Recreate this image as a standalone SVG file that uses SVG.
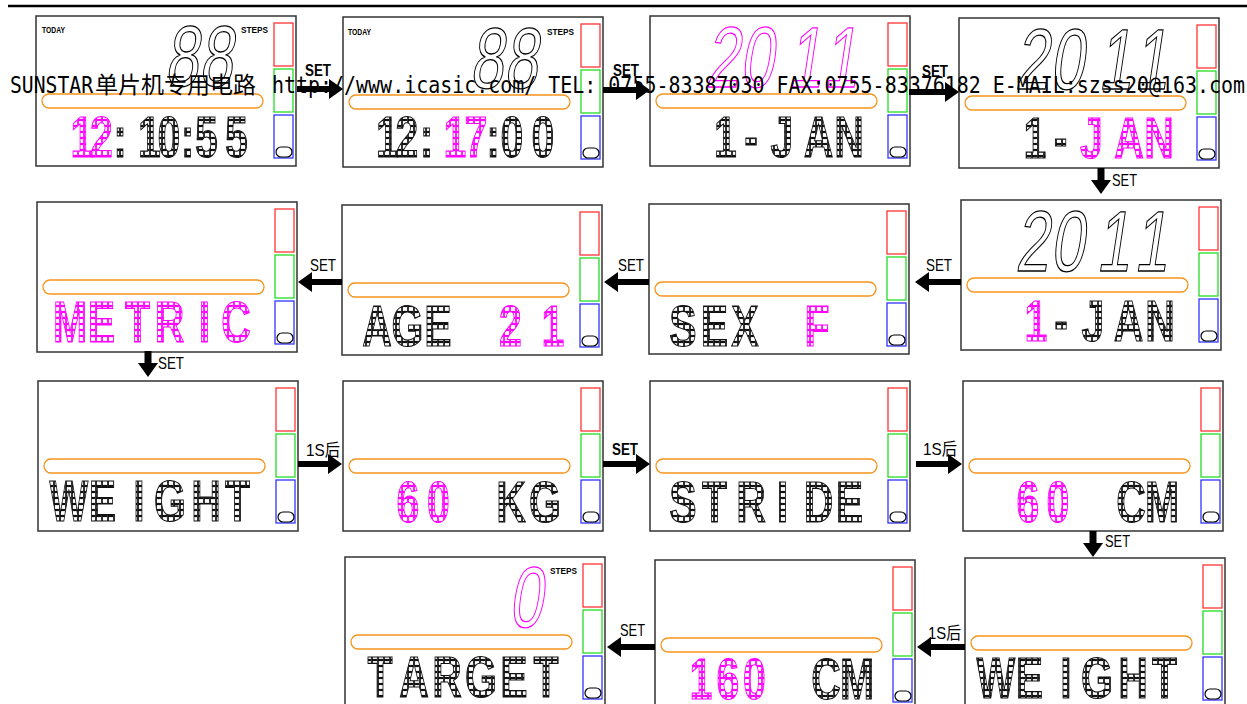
<svg xmlns="http://www.w3.org/2000/svg" xmlns:xlink="http://www.w3.org/1999/xlink" width="1247" height="704" viewBox="0 0 1247 704">
<style>
.box{fill:#fff;stroke:#333;stroke-width:1.5}
.bar{fill:none;stroke:#f7941d;stroke-width:1.3}
.r{fill:none;stroke:#f33;stroke-width:1.3}
.g{fill:none;stroke:#2d2;stroke-width:1.3}
.b{fill:none;stroke:#33f;stroke-width:1.3}
.pill{fill:none;stroke:#000;stroke-width:1.2}
.dm{font-family:"Liberation Sans",sans-serif;font-weight:bold;font-size:57px;text-anchor:middle;fill:url(#pk);stroke:#111;stroke-width:1.1}
.mg{fill:url(#pm);stroke:#f0f}
.seg{font-family:"Liberation Sans",sans-serif;font-size:86px;text-anchor:middle;fill:none;stroke:#000;stroke-width:1.3}
.segm{stroke:#f0f}
.tiny{font-family:"Liberation Sans",sans-serif;font-weight:bold;font-size:9px;fill:#000}
.lbl{font-family:"Liberation Sans","Noto Sans CJK SC",sans-serif;font-size:17px;fill:#000}
.lb{font-weight:bold}
.wm{font-family:"DejaVu Sans Mono","Noto Sans CJK SC",monospace;font-size:23px;fill:#000}
.conn line{stroke:#000;stroke-width:6}
.conn line.v{stroke-width:7}
</style>
<defs>
<pattern id="pk" width="8.3333" height="6" patternUnits="userSpaceOnUse">
<rect x="0.6" y="0.5" width="7.1" height="5" fill="none" stroke="#111" stroke-width="1.2"/>
</pattern>
<pattern id="pm" width="8.3333" height="6" patternUnits="userSpaceOnUse">
<rect x="0.6" y="0.5" width="7.1" height="5" fill="none" stroke="#f0f" stroke-width="1.2"/>
</pattern>
<marker id="ah" markerWidth="14" markerHeight="20" refX="0" refY="10" orient="auto" markerUnits="userSpaceOnUse">
<path d="M0,0 L14,10 L0,20 z" fill="#000"/>
</marker>
<g id="lcd">
<rect class="box" x="0" y="0" width="260" height="150"/>
<rect class="bar" x="6" y="78" width="221" height="14" rx="7"/>
<rect class="r" x="238" y="7" width="19" height="43"/>
<rect class="g" x="238" y="53" width="19" height="43"/>
<rect class="b" x="238" y="99" width="19" height="43"/>
<rect class="pill" x="240" y="131" width="16" height="10" rx="5"/>
</g>
</defs>
<rect width="1247" height="704" fill="#fff"/>
<line x1="8" y1="6" x2="1247" y2="6" stroke="#000" stroke-width="2.5"/>

<g id="p1">
<use xlink:href="#lcd" x="36" y="16"/>
<text class="tiny" x="42" y="33" textLength="23" lengthAdjust="spacingAndGlyphs">TODAY</text>
<text class="tiny" x="241" y="33" textLength="27" lengthAdjust="spacingAndGlyphs">STEPS</text>
<text class="seg" transform="matrix(0.7 0 -0.15 1 0 86)" x="259 308" y="0">88</text>
<text class="dm" transform="scale(0.72 1)" y="157"><tspan class="mg" x="113.9 141">12</tspan><tspan x="166.7 207.6 234.7 260.4 286.8 328.5">:10:55</tspan></text>
</g>

<g id="p2">
<use xlink:href="#lcd" x="343" y="17"/>
<text class="tiny" x="348" y="35" textLength="23" lengthAdjust="spacingAndGlyphs">TODAY</text>
<text class="tiny" x="547" y="35" textLength="27" lengthAdjust="spacingAndGlyphs">STEPS</text>
<text class="seg" transform="matrix(0.7 0 -0.15 1 0 88)" x="694.8 743.4" y="0">88</text>
<text class="dm" transform="scale(0.72 1)" y="157"><tspan x="538.2 565.3 592.4">12:</tspan><tspan class="mg" x="631.9 661.1">17</tspan><tspan x="684.7 711.1 754.2">:00</tspan></text>
</g>

<g id="p3">
<use xlink:href="#lcd" x="650" y="16"/>
<text class="seg segm" transform="matrix(0.7 0 -0.15 1 0 87)" x="1031.9 1080.5 1149.7 1200.5" y="0">2011</text>
<text class="dm" transform="scale(0.72 1)" y="157" x="1007.6 1043.1 1086.1 1136.8 1179.2">1-JAN</text>
</g>

<g id="p4">
<use xlink:href="#lcd" x="959" y="18"/>
<text class="seg" transform="matrix(0.7 0 -0.15 1 0 89)" x="1473.4 1523.4 1592.6 1643.4" y="0">2011</text>
<text class="dm" transform="scale(0.72 1)" y="158"><tspan x="1437.5 1472.9">1-</tspan><tspan class="mg" x="1516 1568.1 1609.7">JAN</tspan></text>
</g>

<g id="p5">
<use xlink:href="#lcd" x="37" y="202"/>
<text class="dm mg" transform="scale(0.72 1)" y="342" x="97.2 141 191 235.4 284 327.8">METRIC</text>
</g>

<g id="p6">
<use xlink:href="#lcd" x="342" y="205"/>
<text class="dm" transform="scale(0.72 1)" y="346"><tspan x="523.6 566 616">AGE</tspan> <tspan class="mg" x="709 768.1">21</tspan></text>
</g>

<g id="p7">
<use xlink:href="#lcd" x="649" y="204"/>
<text class="dm" transform="scale(0.72 1)" y="346"><tspan x="948.6 992.4 1042.4">SEX</tspan> <tspan class="mg" x="1134.7">F</tspan></text>
</g>

<g id="p8">
<use xlink:href="#lcd" x="961" y="200"/>
<text class="seg" transform="matrix(0.7 0 -0.15 1 0 271)" x="1474.1 1524.1 1589.8 1643.4" y="0">2011</text>
<text class="dm" transform="scale(0.72 1)" y="341"><tspan class="mg" x="1438.9">1</tspan><tspan x="1473.6 1518.1 1567.4 1611.1">-JAN</tspan></text>
</g>

<g id="p9">
<use xlink:href="#lcd" x="38" y="381"/>
<text class="dm" transform="scale(0.72 1)" y="521" x="95.8 142.4 193.1 236.1 286.1 329.9">WEIGHT</text>
</g>

<g id="p10">
<use xlink:href="#lcd" x="343" y="381"/>
<text class="dm" transform="scale(0.72 1)" y="522"><tspan class="mg" x="566.7 616.7">60</tspan> <tspan x="709.7 756.9">KG</tspan></text>
</g>

<g id="p11">
<use xlink:href="#lcd" x="650" y="381"/>
<text class="dm" transform="scale(0.72 1)" y="522" x="948.6 992.4 1043.1 1086.8 1136.8 1179.9">STRIDE</text>
</g>

<g id="p12">
<use xlink:href="#lcd" x="963" y="381"/>
<text class="dm" transform="scale(0.72 1)" y="522"><tspan class="mg" x="1427.8 1477.1">60</tspan> <tspan x="1570.8 1613.9">CM</tspan></text>
</g>

<g id="p13">
<use xlink:href="#lcd" x="345" y="557"/>
<text class="tiny" x="550" y="574" textLength="27" lengthAdjust="spacingAndGlyphs">STEPS</text>
<text class="seg segm" transform="matrix(0.7 0 -0.15 1 0 627)" x="750.5" y="0">0</text>
<text class="dm" transform="scale(0.72 1)" y="697" x="527.8 575 620.8 668.1 713.9 758.3">TARGET</text>
</g>

<g id="p14">
<use xlink:href="#lcd" x="655" y="560"/>
<text class="dm" transform="scale(0.72 1)" y="699"><tspan class="mg" x="973.6 1011.1 1055.6">160</tspan> <tspan x="1147.2 1190.3">CM</tspan></text>
</g>

<g id="p15">
<use xlink:href="#lcd" x="965" y="558"/>
<text class="dm" transform="scale(0.72 1)" y="698" x="1383.3 1429.9 1480.6 1523.6 1573.6 1617.4">WEIGHT</text>
</g>

<g id="connectors" class="conn">
<line x1="297" y1="89" x2="329" y2="89" marker-end="url(#ah)"/>
<line x1="603" y1="90" x2="636" y2="90" marker-end="url(#ah)"/>
<line x1="909" y1="92" x2="945" y2="92" marker-end="url(#ah)"/>
<line class="v" x1="1101" y1="168" x2="1101" y2="180" marker-end="url(#ah)"/>
<line x1="961" y1="282" x2="929" y2="282" marker-end="url(#ah)"/>
<line x1="649" y1="282" x2="618" y2="282" marker-end="url(#ah)"/>
<line x1="342" y1="282" x2="312" y2="282" marker-end="url(#ah)"/>
<line class="v" x1="148" y1="351" x2="148" y2="363" marker-end="url(#ah)"/>
<line x1="298" y1="464" x2="328" y2="464" marker-end="url(#ah)"/>
<line x1="603" y1="464" x2="636" y2="464" marker-end="url(#ah)"/>
<line x1="916" y1="464" x2="948" y2="464" marker-end="url(#ah)"/>
<line class="v" x1="1093" y1="531" x2="1093" y2="543" marker-end="url(#ah)"/>
<line x1="965" y1="647" x2="931" y2="647" marker-end="url(#ah)"/>
<line x1="655" y1="647" x2="621" y2="647" marker-end="url(#ah)"/>
<text class="lbl lb" x="305" y="76" textLength="26" lengthAdjust="spacingAndGlyphs">SET</text>
<text class="lbl lb" x="613" y="76" textLength="26" lengthAdjust="spacingAndGlyphs">SET</text>
<text class="lbl lb" x="922" y="77" textLength="26" lengthAdjust="spacingAndGlyphs">SET</text>
<text class="lbl" x="1112" y="186" textLength="25" lengthAdjust="spacingAndGlyphs">SET</text>
<text class="lbl" x="926" y="271" textLength="26" lengthAdjust="spacingAndGlyphs">SET</text>
<text class="lbl" x="618" y="271" textLength="26" lengthAdjust="spacingAndGlyphs">SET</text>
<text class="lbl" x="310" y="271" textLength="26" lengthAdjust="spacingAndGlyphs">SET</text>
<text class="lbl" x="158" y="369" textLength="26" lengthAdjust="spacingAndGlyphs">SET</text>
<text class="lbl" x="306" y="456" textLength="34" lengthAdjust="spacingAndGlyphs">1S后</text>
<text class="lbl lb" x="612" y="455" textLength="26" lengthAdjust="spacingAndGlyphs">SET</text>
<text class="lbl" x="923" y="455" textLength="34" lengthAdjust="spacingAndGlyphs">1S后</text>
<text class="lbl" x="1105" y="547" textLength="25" lengthAdjust="spacingAndGlyphs">SET</text>
<text class="lbl" x="928" y="639" textLength="33" lengthAdjust="spacingAndGlyphs">1S后</text>
<text class="lbl" x="620" y="636" textLength="25" lengthAdjust="spacingAndGlyphs">SET</text>
</g>

<text class="wm" y="93"><tspan x="10" textLength="83" lengthAdjust="spacingAndGlyphs">SUNSTAR</tspan><tspan x="95">单片机专用电路</tspan><tspan x="260" textLength="985" lengthAdjust="spacingAndGlyphs"> http://www.icasic.com/ TEL: 0755-83387030 FAX:0755-83376182 E-MAIL:szss20@163.com</tspan></text>
</svg>
